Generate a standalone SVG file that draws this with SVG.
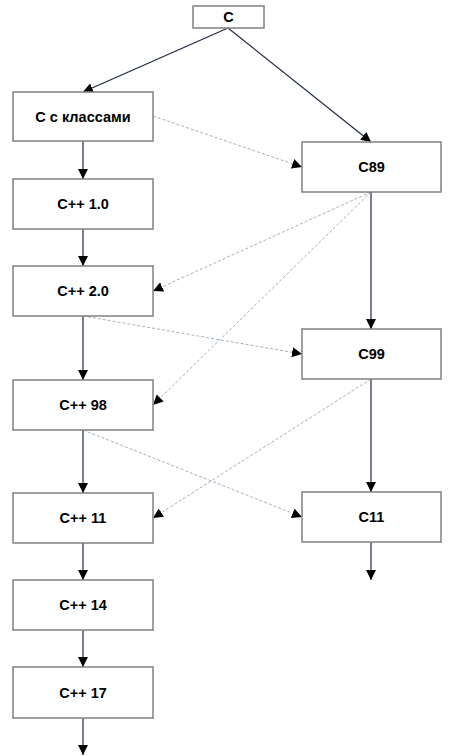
<svg xmlns="http://www.w3.org/2000/svg" width="454" height="756" viewBox="0 0 454 756">
<style>
.n rect{fill:#fff;stroke:#808080;stroke-width:1.5}
.n text{font-family:"Liberation Sans",Arial,sans-serif;font-weight:bold;font-size:14.5px;fill:#000;text-anchor:middle}
.s{stroke:#1f2a44;stroke-width:1.2;fill:none;marker-end:url(#a)}
.d{stroke:#8a9bb0;stroke-width:0.8;stroke-dasharray:3,2;fill:none;marker-end:url(#a)}
</style>
<defs>
<marker id="a" viewBox="0 0 10 10" refX="10" refY="5" markerWidth="10" markerHeight="10" markerUnits="userSpaceOnUse" orient="auto">
<path d="M0,0 L10,5 L0,10 z" fill="#000"/>
</marker>
</defs>
<rect width="454" height="756" fill="#fff"/>
<g id="connectors">
<line class="s" x1="228" y1="28" x2="83" y2="92"/>
<line class="s" x1="228" y1="28" x2="371" y2="142"/>
<line class="d" x1="153" y1="116" x2="302" y2="167"/>
<line class="s" x1="83" y1="141" x2="83" y2="179"/>
<line class="s" x1="83" y1="229" x2="83" y2="266"/>
<line class="s" x1="83" y1="316" x2="83" y2="380"/>
<line class="s" x1="83" y1="430" x2="83" y2="493"/>
<line class="s" x1="83" y1="543" x2="83" y2="580"/>
<line class="s" x1="83" y1="630" x2="83" y2="667"/>
<line class="s" x1="83" y1="718" x2="83" y2="755"/>
<line class="s" x1="371" y1="192" x2="371" y2="329"/>
<line class="s" x1="371" y1="379" x2="371" y2="492"/>
<line class="s" x1="371" y1="542" x2="371" y2="580"/>
<line class="d" x1="371" y1="192" x2="153" y2="291"/>
<line class="d" x1="371" y1="192" x2="153" y2="405"/>
<line class="d" x1="83" y1="316" x2="302" y2="354"/>
<line class="d" x1="371" y1="379" x2="153" y2="518"/>
<line class="d" x1="83" y1="430" x2="302" y2="517"/>
</g>
<g id="c" class="n"><rect x="193" y="6" width="71" height="22"/><text x="228.5" y="22">C</text></g>
<g id="cwc" class="n"><rect x="13" y="92" width="140" height="49"/><text x="83" y="121.5">C с классами</text></g>
<g id="cpp10" class="n"><rect x="13" y="179" width="140" height="50"/><text x="83" y="209">C++ 1.0</text></g>
<g id="cpp20" class="n"><rect x="13" y="266" width="140" height="50"/><text x="83" y="296">C++ 2.0</text></g>
<g id="cpp98" class="n"><rect x="13" y="380" width="140" height="50"/><text x="83" y="410">C++ 98</text></g>
<g id="cpp11" class="n"><rect x="13" y="493" width="140" height="50"/><text x="83" y="523">C++ 11</text></g>
<g id="cpp14" class="n"><rect x="13" y="580" width="140" height="50"/><text x="83" y="610">C++ 14</text></g>
<g id="cpp17" class="n"><rect x="13" y="667" width="140" height="51"/><text x="83" y="697.5">C++ 17</text></g>
<g id="c89" class="n"><rect x="302" y="142" width="139" height="50"/><text x="371.5" y="172">C89</text></g>
<g id="c99" class="n"><rect x="302" y="329" width="139" height="50"/><text x="371.5" y="359">C99</text></g>
<g id="c11" class="n"><rect x="302" y="492" width="139" height="50"/><text x="371.5" y="522">C11</text></g>
</svg>
